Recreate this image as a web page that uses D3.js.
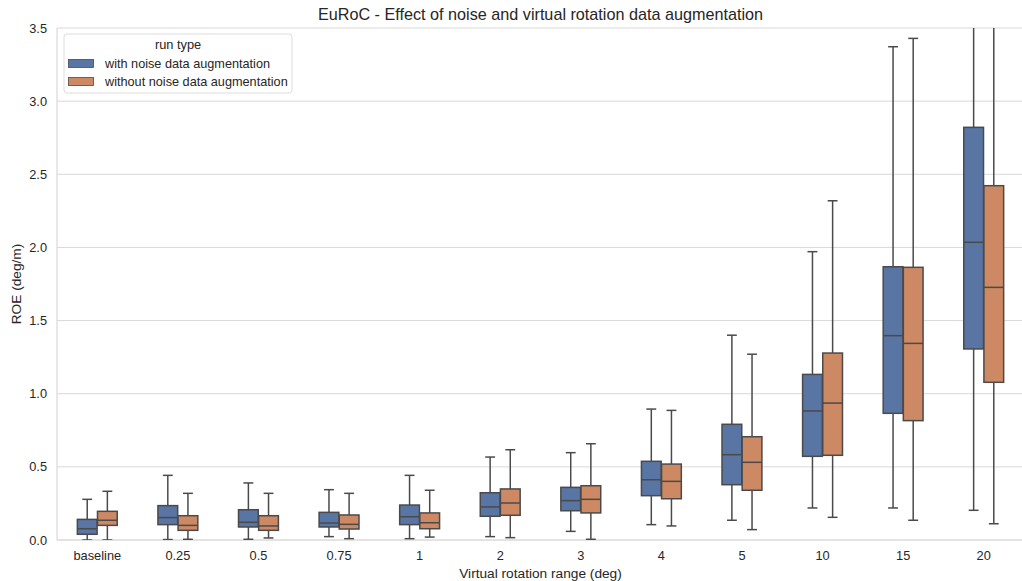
<!DOCTYPE html>
<html>
<head>
<meta charset="utf-8">
<script src="https://cdn.jsdelivr.net/npm/d3@7"></script>
<style>
  html, body { margin: 0; padding: 0; background: #fff; }
  svg { display: block; font-family: "Liberation Sans", Arial, sans-serif; }
</style>
</head>
<body>
<svg id="chart" width="1022" height="581"></svg>
<script>
// Virtual rotation ranges (x categories)
const categories = ["baseline", "0.25", "0.5", "0.75", "1", "2", "3", "4", "5", "10", "15", "20"];
const runTypes = ["with noise data augmentation", "without noise data augmentation"];

// Box statistics per category: [lower whisker, Q1, median, Q3, upper whisker]
const withNoise = [
  [0.00, 0.039, 0.077, 0.141, 0.278],
  [0.003, 0.105, 0.153, 0.235, 0.442],
  [0.005, 0.089, 0.121, 0.207, 0.390],
  [0.023, 0.089, 0.116, 0.189, 0.344],
  [0.009, 0.105, 0.159, 0.239, 0.442],
  [0.023, 0.162, 0.226, 0.323, 0.567],
  [0.059, 0.200, 0.269, 0.360, 0.597],
  [0.105, 0.303, 0.412, 0.538, 0.895],
  [0.135, 0.378, 0.583, 0.791, 1.400],
  [0.219, 0.572, 0.882, 1.132, 1.971],
  [0.219, 0.866, 1.397, 1.868, 3.372],
  [0.203, 1.306, 2.035, 2.821, 4.000]
];
const withoutNoise = [
  [0.00, 0.100, 0.135, 0.196, 0.333],
  [0.005, 0.066, 0.100, 0.166, 0.319],
  [0.014, 0.066, 0.096, 0.166, 0.319],
  [0.009, 0.075, 0.107, 0.171, 0.319],
  [0.020, 0.077, 0.118, 0.185, 0.340],
  [0.016, 0.169, 0.253, 0.349, 0.617],
  [0.005, 0.185, 0.278, 0.371, 0.658],
  [0.096, 0.282, 0.401, 0.519, 0.886],
  [0.071, 0.340, 0.531, 0.706, 1.270],
  [0.155, 0.579, 0.936, 1.278, 2.319],
  [0.135, 0.816, 1.344, 1.864, 3.429],
  [0.111, 1.078, 1.727, 2.422, 4.000]
];
const yTicks = [0, 0.5, 1.0, 1.5, 2.0, 2.5, 3.0, 3.5];

const colors = ["#5875a4", "#cc8963"];
const lineColor = "#4a4a4a";
const gridColor = "#d9d9d9";
const textColor = "#262626";

const margin = { left: 57, right: -2, top: 28, bottom: 41 };
const W = 1022, H = 581;
const svg = d3.select("#chart");

const x = d3.scaleBand().domain(categories).range([margin.left, W - margin.right]).paddingInner(0).paddingOuter(0);
const y = d3.scaleLinear().domain([0, 3.5]).range([H - margin.bottom, margin.top]);
const hue = d3.scaleBand().domain(runTypes).range([-0.25, 0.25]);

// grid
svg.append("g").selectAll("line").data(yTicks).join("line")
  .attr("x1", margin.left).attr("x2", W)
  .attr("y1", d => y(d)).attr("y2", d => y(d))
  .attr("stroke", gridColor).attr("stroke-width", 1);

// spines
svg.append("line").attr("x1", margin.left).attr("x2", margin.left)
  .attr("y1", y(0)).attr("y2", y(3.5)).attr("stroke", gridColor).attr("stroke-width", 1.2);
svg.append("line").attr("x1", margin.left).attr("x2", W)
  .attr("y1", y(0)).attr("y2", y(0)).attr("stroke", gridColor).attr("stroke-width", 1.2);

// y axis
const yAxis = d3.axisLeft(y).tickValues(yTicks).tickFormat(d3.format(".1f")).tickSize(0).tickPadding(10);
const gy = svg.append("g").attr("transform", `translate(${margin.left},0)`).call(yAxis);
gy.select(".domain").remove();
gy.selectAll("text").attr("fill", textColor).style("font-size", "12.8px")
  .style("font-family", "'Liberation Sans', Arial, sans-serif");

// x axis
const xAxis = d3.axisBottom(x).tickSize(0).tickPadding(11);
const gx = svg.append("g").attr("transform", `translate(0,${y(0)})`).call(xAxis);
gx.select(".domain").remove();
gx.selectAll("text").attr("fill", textColor).style("font-size", "12.8px")
  .style("font-family", "'Liberation Sans', Arial, sans-serif");

// boxes
svg.append("clipPath").attr("id", "plotclip").append("rect")
  .attr("x", margin.left).attr("y", y(3.5)).attr("width", W - margin.left).attr("height", y(0) - y(3.5));
const boxesG = svg.append("g").attr("clip-path", "url(#plotclip)");
const series = [withNoise, withoutNoise];
const bw = x.bandwidth() * hue.bandwidth() * 0.98;

series.forEach((vals, si) => {
  vals.forEach((s, ci) => {
    const cx = x(categories[ci]) + x.bandwidth() * (0.5 + hue(runTypes[si]) + hue.bandwidth() / 2);
    const g = boxesG.append("g");
    const capW = bw / 2;
    // whiskers
    g.append("line").attr("x1", cx).attr("x2", cx).attr("y1", y(s[3])).attr("y2", y(s[4]))
      .attr("stroke", lineColor).attr("stroke-width", 1.5);
    g.append("line").attr("x1", cx).attr("x2", cx).attr("y1", y(s[1])).attr("y2", y(s[0]))
      .attr("stroke", lineColor).attr("stroke-width", 1.5);
    // caps
    [s[0], s[4]].forEach(v => {
      g.append("line").attr("x1", cx - capW / 2).attr("x2", cx + capW / 2)
        .attr("y1", y(v)).attr("y2", y(v)).attr("stroke", lineColor).attr("stroke-width", 1.5);
    });
    // box
    g.append("rect").attr("x", cx - bw / 2).attr("width", bw)
      .attr("y", y(s[3])).attr("height", y(s[1]) - y(s[3]))
      .attr("fill", colors[si]).attr("stroke", lineColor).attr("stroke-width", 1.5);
    // median
    g.append("line").attr("x1", cx - bw / 2).attr("x2", cx + bw / 2)
      .attr("y1", y(s[2])).attr("y2", y(s[2])).attr("stroke", lineColor).attr("stroke-width", 1.5);
  });
});

// title and axis labels
svg.append("text").attr("x", (margin.left + W - margin.right) / 2).attr("y", 20)
  .attr("text-anchor", "middle").attr("fill", textColor).style("font-size", "16.2px")
  .text("EuRoC - Effect of noise and virtual rotation data augmentation");
svg.append("text").attr("x", (margin.left + W - margin.right) / 2).attr("y", 578)
  .attr("text-anchor", "middle").attr("fill", textColor).style("font-size", "13.7px")
  .text("Virtual rotation range (deg)");
svg.append("text").attr("transform", `translate(21,${(y(0) + y(3.5)) / 2}) rotate(-90)`)
  .attr("text-anchor", "middle").attr("fill", textColor).style("font-size", "13.7px")
  .text("ROE (deg/m)");

// legend
const lg = svg.append("g").attr("transform", "translate(64,34)");
lg.append("rect").attr("x", 0).attr("y", 0).attr("width", 228).attr("height", 59).attr("rx", 3)
  .attr("fill", "#fff").attr("fill-opacity", 0.8).attr("stroke", "#dddddd");
lg.append("text").attr("x", 114).attr("y", 15).attr("text-anchor", "middle").attr("fill", textColor)
  .style("font-size", "12.8px").text("run type");
runTypes.forEach((r, i) => {
  lg.append("rect").attr("x", 4.5).attr("y", 25.5 + i * 18).attr("width", 25).attr("height", 8)
    .attr("fill", colors[i]).attr("stroke", lineColor).attr("stroke-width", 0.8);
  lg.append("text").attr("x", 41).attr("y", 34 + i * 18).attr("fill", textColor)
    .style("font-size", "12.7px").text(r);
});
</script>
</body>
</html>
